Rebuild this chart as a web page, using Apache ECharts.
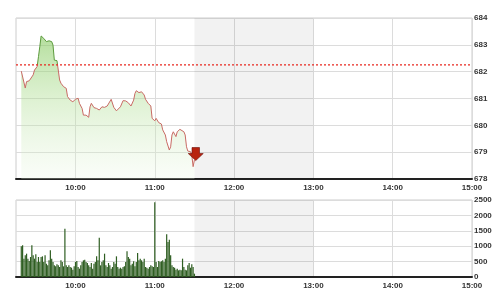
<!DOCTYPE html>
<html><head><meta charset="utf-8">
<script src="https://cdn.jsdelivr.net/npm/echarts@6/dist/echarts.min.js"></script>
<style>html,body{margin:0;padding:0;background:#fff}#c{width:501px;height:300px}</style>
</head><body><div id="c"></div>
<script>
const axisStart = '9:15';
const axisEnd = '15:00';
const hourLabels = ['10:00', '11:00', '12:00', '13:00', '14:00', '15:00'];
const breakStart = '11:30';
const breakEnd = '13:00';
const refPrice = 682.25;

const priceTimes = ['9:19','9:20','9:22','9:23','9:25','9:26','9:28','9:29','9:31','9:32',
  '9:33','9:34','9:36','9:37','9:38','9:40','9:41','9:42','9:43','9:44',
  '9:46','9:47','9:48','9:49','9:51','9:53','9:54','9:56','9:58','10:00',
  '10:02','10:03','10:05','10:06','10:07','10:08','10:10','10:11','10:12','10:14',
  '10:16','10:18','10:20','10:22','10:24','10:25','10:27','10:28','10:29','10:31',
  '10:32','10:34','10:36','10:38','10:40','10:42','10:44','10:45','10:46','10:48',
  '10:50','10:52','10:53','10:55','10:57','10:58','11:00','11:01','11:03','11:05',
  '11:06','11:08','11:09','11:11','11:12','11:13','11:14','11:16','11:17','11:19',
  '11:20','11:22','11:23','11:24','11:25','11:27','11:28','11:29','11:30'];
const priceValues = [682.02,682.09,681.39,681.63,681.66,681.59,681.88,682.06,682.19,682.56,
  682.93,683.33,683.24,683.18,683.12,683.15,683.09,683.12,682.99,682.43,
  682.41,682.43,681.69,681.57,681.44,681.38,681.07,680.94,680.88,680.97,
  681.01,680.82,680.63,680.38,680.45,680.38,680.30,680.69,680.82,680.66,
  680.63,680.57,680.69,680.67,680.72,680.79,680.97,680.92,680.67,680.54,
  680.51,680.69,680.92,680.91,680.84,680.72,680.94,681.19,681.29,681.22,
  681.25,681.13,680.97,680.82,680.72,680.26,680.17,680.26,680.10,680.05,
  679.83,679.64,679.39,679.08,679.20,679.64,679.76,679.58,679.76,679.85,
  679.89,679.76,679.64,679.20,679.04,679.02,678.89,678.46,678.71];
const lastMarkerValue = 678.93;

const volStart = '9:19';
const volumes = [995,1028,595,703,757,595,519,649,1028,703,
  595,736,487,649,487,649,671,487,703,433,
  379,541,866,595,487,379,346,411,379,325,
  541,487,346,1569,379,325,379,325,303,238,
  346,487,519,325,271,379,487,541,563,487,
  454,379,325,454,271,433,487,671,541,1277,
  379,487,541,757,379,325,454,379,271,325,
  487,433,671,325,271,303,271,325,346,487,
  833,649,595,379,433,509,346,487,779,541,
  595,541,487,595,325,303,271,325,379,346,
  325,2424,487,325,519,487,509,541,487,595,
  1385,1136,1212,703,379,325,303,238,271,216,
  238,216,595,325,238,216,379,454,303,411,
  325,108];

function toMin(s){ const p = s.split(':'); return (+p[0]) * 60 + (+p[1]); }
function fmt(v){ const h = Math.floor(v / 60), m = v % 60; return h + ':' + (m < 10 ? '0' : '') + m; }

const hourMins = hourLabels.map(toMin);
const xMin = toMin(axisStart), xMax = toMin(axisEnd);
const volStartMin = toMin(volStart);

const labelFont = { fontSize: 8, fontWeight: 'bold', color: '#333', fontFamily: 'Liberation Sans, Arial, sans-serif' };

function makeX(gridIndex){
  return {
    type: 'value', gridIndex, min: xMin, max: xMax, interval: 15,
    axisLabel: Object.assign({ customValues: hourMins, formatter: v => fmt(v), margin: 5 }, labelFont),
    axisTick: { show: false, customValues: hourMins },
    splitLine: { show: true, lineStyle: { color: '#dcdcdc', width: 1 } },
    axisLine: { show: true, lineStyle: { color: '#222', width: 2 } }
  };
}

const pMax = Math.max.apply(null, priceValues), pMin = Math.min.apply(null, priceValues);
const cut = (pMax - refPrice) / (pMax - pMin);
const lineColor = new echarts.graphic.LinearGradient(0, 0, 0, 1, [
  { offset: 0, color: '#5b9a3c' }, { offset: cut, color: '#5b9a3c' },
  { offset: cut, color: '#c86a64' }, { offset: 1, color: '#c86a64' }
]);

function shade(){
  return {
    silent: true,
    itemStyle: { color: 'rgba(0,0,0,0.05)' },
    data: [[{ xAxis: toMin(breakStart) }, { xAxis: toMin(breakEnd) }]]
  };
}

const chart = echarts.init(document.getElementById('c'), null, { renderer: 'canvas' });
chart.setOption({
  animation: false,
  backgroundColor: '#fff',
  grid: [
    { left: 16, right: 29, top: 18, height: 161, show: true, borderColor: '#ccc', borderWidth: 1 },
    { left: 16, right: 29, top: 200, height: 77, show: true, borderColor: '#ccc', borderWidth: 1 }
  ],
  xAxis: [makeX(0), makeX(1)],
  yAxis: [
    { type: 'value', gridIndex: 0, position: 'right', min: 678, max: 684, interval: 1,
      axisLabel: Object.assign({ margin: 2, formatter: v => String(v) }, labelFont),
      axisLine: { show: false }, axisTick: { show: false },
      splitLine: { lineStyle: { color: '#dcdcdc' } } },
    { type: 'value', gridIndex: 1, position: 'right', min: 0, max: 2500, interval: 500,
      axisLabel: Object.assign({ margin: 2, formatter: v => String(v) }, labelFont),
      axisLine: { show: false }, axisTick: { show: false },
      splitLine: { lineStyle: { color: '#dcdcdc' } } }
  ],
  series: [
    {
      type: 'line', xAxisIndex: 0, yAxisIndex: 0,
      data: priceTimes.map((t, i) => [toMin(t), priceValues[i]]),
      showSymbol: false, symbol: 'none',
      lineStyle: { width: 1, color: lineColor },
      areaStyle: {
        origin: 'start',
        color: new echarts.graphic.LinearGradient(0, 0, 0, 1, [
          { offset: 0, color: 'rgba(130,200,90,0.85)' },
          { offset: 0.45, color: 'rgba(170,220,140,0.55)' },
          { offset: 1, color: 'rgba(235,247,228,0.35)' }
        ])
      },
      markArea: shade(),
      markPoint: {
        silent: true,
        symbol: 'path://M4,0 L12,0 L12,6 L16,6 L8,13 L0,6 L4,6 Z',
        symbolSize: [15, 13],
        itemStyle: { color: '#b8230f', borderColor: '#6e0c06', borderWidth: 0.6 },
        label: { show: false },
        data: [{ coord: [toMin(breakStart) + 1, lastMarkerValue] }]
      },
      z: 3
    },
    {
      type: 'line', xAxisIndex: 0, yAxisIndex: 0,
      data: [[xMin, refPrice], [xMax, refPrice]],
      showSymbol: false, symbol: 'none', silent: true,
      lineStyle: { color: '#e8271f', type: [2, 2], width: 1.2 },
      z: 4
    },
    {
      type: 'bar', xAxisIndex: 1, yAxisIndex: 1,
      data: volumes.map((v, i) => [volStartMin + i, v]),
      barWidth: 1.2,
      itemStyle: { color: '#2f5e22' },
      markArea: shade()
    }
  ]
});
</script>
</body></html>
